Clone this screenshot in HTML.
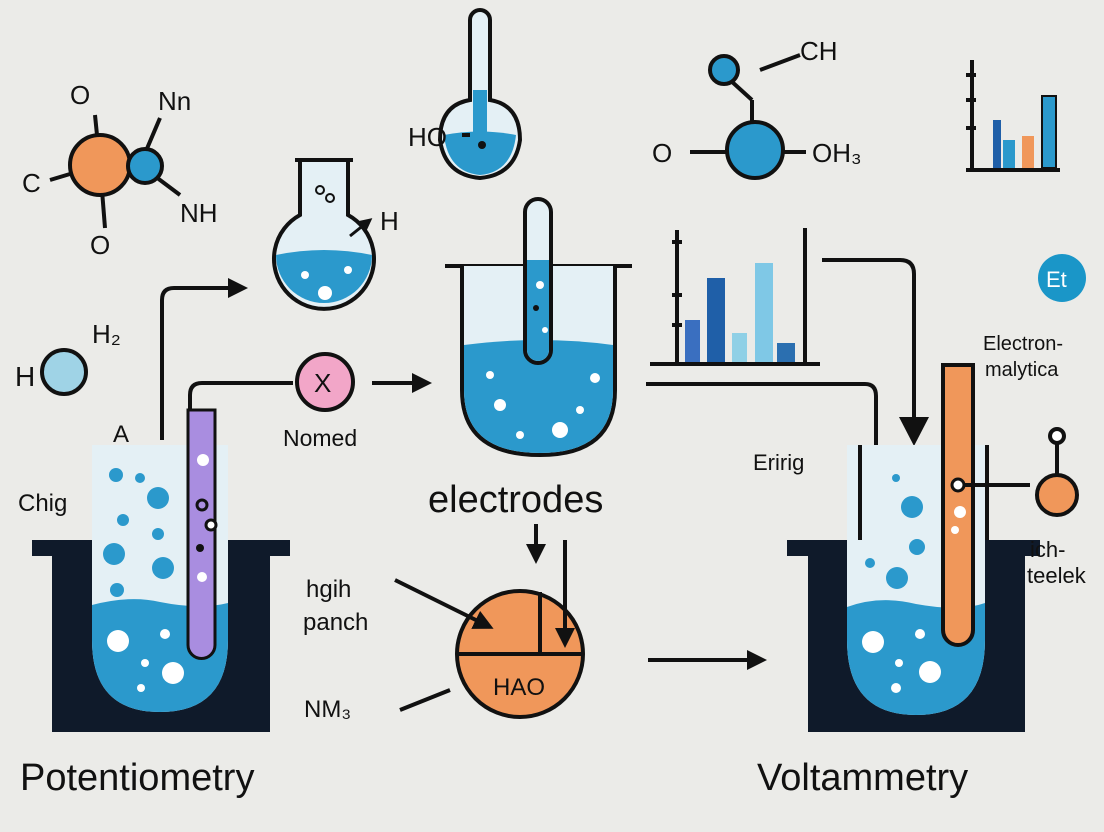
<!DOCTYPE html>
<html><head><meta charset="utf-8"><style>
html,body{margin:0;padding:0;background:#ebebe8;}
svg{display:block;}
text{font-family:"Liberation Sans",sans-serif;fill:#111;}
</style></head><body>
<svg width="1104" height="832" viewBox="0 0 1104 832" xmlns="http://www.w3.org/2000/svg">
<defs><marker id="ah" markerWidth="5" markerHeight="5" refX="4" refY="2.5" orient="auto" markerUnits="strokeWidth"><path d="M0,0 L5,2.5 L0,5 z" fill="#111"/></marker></defs>
<rect width="1104" height="832" fill="#ebebe8"/>
<g stroke="#111" stroke-width="4" fill="none">
<line x1="50" y1="180" x2="100" y2="165"/><line x1="100" y1="165" x2="95" y2="115"/><line x1="100" y1="165" x2="105" y2="228"/><line x1="140" y1="165" x2="160" y2="118"/><line x1="140" y1="165" x2="180" y2="195"/>
</g>
<circle cx="100" cy="165" r="30" fill="#f0975a" stroke="#111" stroke-width="4"/>
<circle cx="145" cy="166" r="17" fill="#2b99cc" stroke="#111" stroke-width="4"/>
<text x="70" y="104" font-size="26">O</text><text x="158" y="110" font-size="26">Nn</text><text x="180" y="222" font-size="26">NH</text><text x="90" y="254" font-size="26">O</text><text x="22" y="192" font-size="26">C</text>
<circle cx="64" cy="372" r="22" fill="#9fd3e6" stroke="#111" stroke-width="4"/>
<text x="15" y="386" font-size="28">H</text><text x="92" y="343" font-size="26">H₂</text>
<path d="M162 440 V300 Q162 288 174 288 H244" stroke="#111" stroke-width="4" fill="none" marker-end="url(#ah)"/>
<path d="M300 160 V215 A50 50 0 1 0 348 215 V160" fill="#e4f0f5" stroke="#111" stroke-width="4"/>
<path d="M276 255 Q324 245 372 255 A48 48 0 0 1 276 255Z" fill="#2b99cc"/>
<line x1="295" y1="160" x2="353" y2="160" stroke="#111" stroke-width="4"/>
<circle cx="320" cy="190" r="4" fill="none" stroke="#111" stroke-width="2"/><circle cx="330" cy="198" r="4" fill="none" stroke="#111" stroke-width="2"/>
<circle cx="325" cy="293" r="7" fill="#fff"/><circle cx="305" cy="275" r="4" fill="#fff"/><circle cx="348" cy="270" r="4" fill="#fff"/>
<path d="M350 236 L370 220" stroke="#111" stroke-width="3" marker-end="url(#ah)"/><text x="380" y="230" font-size="26">H</text>
<path d="M470 20 V100 Q440 105 440 140 Q445 175 480 178 Q515 175 520 140 Q520 105 490 100 V20 A10 10 0 0 0 470 20Z" fill="#e4f0f5" stroke="#111" stroke-width="4"/>
<path d="M444 135 Q480 128 516 135 Q512 172 480 175 Q448 172 444 135Z" fill="#2b99cc"/>
<rect x="473" y="90" width="14" height="45" fill="#2b99cc"/>
<line x1="470" y1="135" x2="462" y2="135" stroke="#111" stroke-width="4"/>
<circle cx="482" cy="145" r="4" fill="#111"/>
<text x="408" y="146" font-size="26">HO</text>
<g stroke="#111" stroke-width="4"><line x1="690" y1="152" x2="806" y2="152"/><line x1="752" y1="150" x2="752" y2="100"/><line x1="752" y1="100" x2="730" y2="80"/><line x1="760" y1="70" x2="800" y2="55"/></g>
<circle cx="755" cy="150" r="28" fill="#2b99cc" stroke="#111" stroke-width="4"/>
<circle cx="724" cy="70" r="14" fill="#2b99cc" stroke="#111" stroke-width="4"/>
<text x="652" y="162" font-size="26">O</text><text x="812" y="162" font-size="26">OH₃</text><text x="800" y="60" font-size="26">CH</text>
<g stroke="#111" stroke-width="4"><line x1="972" y1="60" x2="972" y2="170"/><line x1="966" y1="170" x2="1060" y2="170"/><line x1="966" y1="75" x2="976" y2="75"/><line x1="966" y1="100" x2="976" y2="100"/><line x1="966" y1="128" x2="976" y2="128"/></g>
<rect x="993" y="120" width="8" height="48" fill="#1f5fa8"/><rect x="1003" y="140" width="12" height="28" fill="#2b99cc"/><rect x="1022" y="136" width="12" height="32" fill="#f0975a"/><rect x="1042" y="96" width="14" height="72" fill="#2b99cc" stroke="#111" stroke-width="2"/>
<g stroke="#111" stroke-width="4" fill="none"><line x1="677" y1="230" x2="677" y2="362"/><line x1="650" y1="364" x2="820" y2="364"/><line x1="805" y1="228" x2="805" y2="362"/><line x1="672" y1="242" x2="682" y2="242"/><line x1="672" y1="295" x2="682" y2="295"/><line x1="672" y1="325" x2="682" y2="325"/></g>
<rect x="685" y="320" width="15" height="42" fill="#3a6fc0"/><rect x="707" y="278" width="18" height="84" fill="#1f5fa8"/><rect x="732" y="333" width="15" height="29" fill="#8fd0e6"/><rect x="755" y="263" width="18" height="99" fill="#7fc8e6"/><rect x="777" y="343" width="18" height="19" fill="#2b6fb0"/>
<line x1="445" y1="266" x2="632" y2="266" stroke="#111" stroke-width="4"/>
<path d="M462 266 V390 Q462 455 540 455 Q615 455 615 390 V266" fill="#e4f0f5" stroke="#111" stroke-width="4"/>
<path d="M464 345 Q540 335 613 345 V390 Q613 453 540 453 Q464 453 464 390Z" fill="#2b99cc"/>
<path d="M525 212 V350 A13 13 0 0 0 551 350 V212 A13 13 0 0 0 525 212Z" fill="#e4f0f5" stroke="#111" stroke-width="4"/>
<path d="M527 260 V350 A11 11 0 0 0 549 350 V260Z" fill="#2b99cc"/>
<g fill="#fff"><circle cx="560" cy="430" r="8"/><circle cx="500" cy="405" r="6"/><circle cx="490" cy="375" r="4"/><circle cx="520" cy="435" r="4"/><circle cx="595" cy="378" r="5"/><circle cx="580" cy="410" r="4"/><circle cx="540" cy="285" r="4"/><circle cx="545" cy="330" r="3"/></g>
<circle cx="536" cy="308" r="3" fill="#111"/>
<text x="428" y="512" font-size="38">electrodes</text>
<path d="M190 410 V395 Q190 383 202 383 H293" stroke="#111" stroke-width="4" fill="none"/>
<circle cx="325" cy="382" r="28" fill="#f2a6c8" stroke="#111" stroke-width="4"/>
<text x="314" y="392" font-size="26">X</text>
<text x="283" y="446" font-size="23">Nomed</text>
<line x1="372" y1="383" x2="428" y2="383" stroke="#111" stroke-width="4" marker-end="url(#ah)"/>
<path d="M32 540 H290 V556 H270 V732 H52 V556 H32Z" fill="#0f1a2a"/>
<path d="M92 445 H228 V640 Q228 712 160 712 Q92 712 92 640Z" fill="#e4f0f5"/>
<path d="M92 605 Q130 595 160 602 Q200 610 228 603 V640 Q228 712 160 712 Q92 712 92 640Z" fill="#2b99cc"/>
<path d="M188 410 H215 V645 A13 13 0 0 1 188 645Z" fill="#a98de0" stroke="#111" stroke-width="3"/>
<g fill="#2b99cc"><circle cx="116" cy="475" r="7"/><circle cx="140" cy="478" r="5"/><circle cx="158" cy="498" r="11"/><circle cx="123" cy="520" r="6"/><circle cx="158" cy="534" r="6"/><circle cx="114" cy="554" r="11"/><circle cx="163" cy="568" r="11"/><circle cx="117" cy="590" r="7"/></g>
<g fill="#fff"><circle cx="118" cy="641" r="11"/><circle cx="165" cy="634" r="5"/><circle cx="145" cy="663" r="4"/><circle cx="173" cy="673" r="11"/><circle cx="141" cy="688" r="4"/><circle cx="203" cy="460" r="6"/><circle cx="202" cy="577" r="5"/></g>
<circle cx="202" cy="505" r="5" fill="none" stroke="#111" stroke-width="3"/><circle cx="211" cy="525" r="5" fill="#fff" stroke="#111" stroke-width="3"/><circle cx="200" cy="548" r="4" fill="#111"/>
<text x="113" y="442" font-size="24">A</text><text x="18" y="511" font-size="24">Chig</text>
<circle cx="520" cy="654" r="63" fill="#f0975a" stroke="#111" stroke-width="4"/>
<line x1="458" y1="654" x2="582" y2="654" stroke="#111" stroke-width="4"/>
<line x1="540" y1="592" x2="540" y2="654" stroke="#111" stroke-width="4"/>
<text x="493" y="695" font-size="24">HAO</text>
<line x1="536" y1="524" x2="536" y2="560" stroke="#111" stroke-width="4" marker-end="url(#ah)"/>
<line x1="565" y1="540" x2="565" y2="644" stroke="#111" stroke-width="4" marker-end="url(#ah)"/>
<line x1="395" y1="580" x2="490" y2="627" stroke="#111" stroke-width="4" marker-end="url(#ah)"/>
<line x1="400" y1="710" x2="450" y2="690" stroke="#111" stroke-width="4"/>
<text x="306" y="597" font-size="24">hgih</text><text x="303" y="630" font-size="24">panch</text><text x="304" y="717" font-size="24">NM₃</text>
<line x1="648" y1="660" x2="763" y2="660" stroke="#111" stroke-width="4" marker-end="url(#ah)"/>
<path d="M646 384 H865 Q876 384 876 396 V540" stroke="#111" stroke-width="4" fill="none"/>
<circle cx="876" cy="545" r="5" fill="none" stroke="#111" stroke-width="3"/>
<path d="M822 260 H900 Q914 260 914 274 V420" stroke="#111" stroke-width="4" fill="none"/>
<path d="M899 417 L929 417 L914 446Z" fill="#111"/>
<path d="M787 540 H1040 V556 H1025 V732 H808 V556 H787Z" fill="#0f1a2a"/>
<path d="M847 445 H985 V640 Q985 715 916 715 Q847 715 847 640Z" fill="#e4f0f5"/>
<path d="M847 607 Q880 595 916 604 Q960 612 985 603 V640 Q985 715 916 715 Q847 715 847 640Z" fill="#2b99cc"/>
<path d="M943 365 H973 V630 A15 15 0 0 1 943 630Z" fill="#f0975a" stroke="#111" stroke-width="4"/>
<line x1="860" y1="445" x2="860" y2="540" stroke="#111" stroke-width="4"/><line x1="987" y1="445" x2="987" y2="540" stroke="#111" stroke-width="4"/>
<g fill="#2b99cc"><circle cx="896" cy="478" r="4"/><circle cx="912" cy="507" r="11"/><circle cx="917" cy="547" r="8"/><circle cx="870" cy="563" r="5"/><circle cx="897" cy="578" r="11"/></g>
<g fill="#fff"><circle cx="873" cy="642" r="11"/><circle cx="920" cy="634" r="5"/><circle cx="899" cy="663" r="4"/><circle cx="930" cy="672" r="11"/><circle cx="896" cy="688" r="5"/><circle cx="960" cy="512" r="6"/><circle cx="955" cy="530" r="4"/></g>
<circle cx="958" cy="485" r="6" fill="#fff" stroke="#111" stroke-width="3"/>
<line x1="965" y1="485" x2="1030" y2="485" stroke="#111" stroke-width="4"/>
<line x1="1057" y1="440" x2="1057" y2="475" stroke="#111" stroke-width="4"/>
<circle cx="1057" cy="436" r="7" fill="#fff" stroke="#111" stroke-width="4"/>
<circle cx="1057" cy="495" r="20" fill="#f0975a" stroke="#111" stroke-width="4"/>
<text x="753" y="470" font-size="22">Eririg</text>
<text x="1030" y="557" font-size="22">ich-</text><text x="1027" y="583" font-size="22">teelek</text>
<circle cx="1062" cy="278" r="24" fill="#1a96c8"/>
<text x="1046" y="287" font-size="22" style="fill:#fff">Et</text>
<text x="983" y="350" font-size="20">Electron-</text><text x="985" y="376" font-size="20">malytica</text>
<text x="20" y="790" font-size="38">Potentiometry</text>
<text x="757" y="790" font-size="38">Voltammetry</text>
</svg>
</body></html>
